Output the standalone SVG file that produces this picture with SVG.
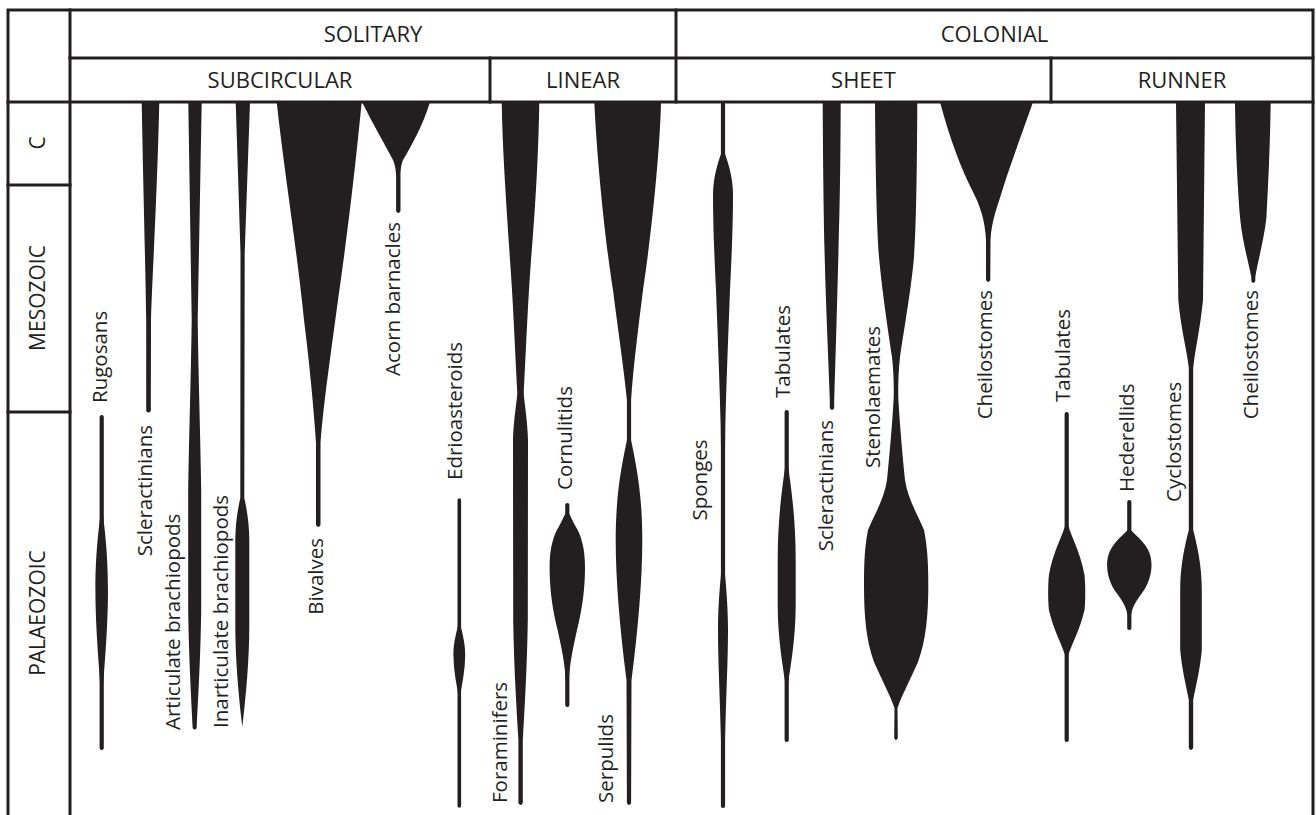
<svg xmlns="http://www.w3.org/2000/svg" width="1316" height="815" viewBox="0 0 1316 815">
<style>
.bg{fill:#ffffff}
.fr{stroke:#231f20;stroke-width:3;fill:none;stroke-linecap:square}
.sh{fill:#231f20}
.ln{stroke:#231f20;stroke-width:4.2;stroke-linecap:round;fill:none}
.ln3{stroke:#231f20;stroke-width:3.6;stroke-linecap:round;fill:none}
.hd{font-family:"Open Sans","Noto Sans","Liberation Sans",sans-serif;font-size:22px;fill:#231f20;text-anchor:middle}
.er{font-family:"Open Sans","Noto Sans","Liberation Sans",sans-serif;font-size:21px;fill:#231f20;text-anchor:middle}
.lb{font-family:"Open Sans","Noto Sans","Liberation Sans",sans-serif;font-size:20.5px;fill:#231f20}
.s{text-anchor:start}.e{text-anchor:end}.m{text-anchor:middle}
</style>
<rect class="bg" x="0" y="0" width="1316" height="815"/>
<g id="frame">
<path class="fr" d="M8,815 L8,10 L1313,10 L1313,815"/>
<line class="fr" x1="70" y1="10" x2="70" y2="815"/>
<line class="fr" x1="70" y1="58" x2="1313" y2="58"/>
<line class="fr" x1="8" y1="102" x2="1313" y2="102"/>
<line class="fr" x1="676" y1="10" x2="676" y2="102"/>
<line class="fr" x1="490" y1="58" x2="490" y2="102"/>
<line class="fr" x1="1051" y1="58" x2="1051" y2="102"/>
<line class="fr" x1="8" y1="185" x2="70" y2="185"/>
<line class="fr" x1="8" y1="412" x2="70" y2="412"/>
</g>
<g id="headers">
<text class="hd" x="373" y="42">SOLITARY</text>
<text class="hd" x="994.5" y="42">COLONIAL</text>
<text class="hd" x="280" y="88">SUBCIRCULAR</text>
<text class="hd" x="583" y="88">LINEAR</text>
<text class="hd" x="863.5" y="88">SHEET</text>
<text class="hd" x="1182" y="88">RUNNER</text>
</g>
<g id="eras">
<text class="er" transform="translate(45,143) rotate(-90)">C</text>
<text class="er" transform="translate(45,298) rotate(-90)">MESOZOIC</text>
<text class="er" transform="translate(45,613) rotate(-90)">PALAEOZOIC</text>
</g>
<g id="connectors"></g>
<g id="rugosans">
<line class="ln" x1="101.7" y1="417" x2="101.7" y2="748"/>
<path class="sh" d="M101.7,503 C104,525 108,550 108,590 C108,630 104,670 101.7,705 C99.4,670 95.4,630 95.4,590 C95.4,550 99.4,525 101.7,503 Z"/>
<text class="lb s" transform="translate(106.7,403) rotate(-90)">Rugosans</text>
</g>
<g id="scleractinians-solitary">
<path class="sh" d="M141.7,102 L159.3,102 C157,200 152.5,270 151,320 L150.8,411 Q148.5,414 146.2,411 L146.2,320 C145.5,270 143.5,200 141.7,102 Z"/>
<text class="lb e" transform="translate(151.7,425) rotate(-90)">Scleractinians</text>
</g>
<g id="articulate-brachiopods">
<path class="sh" d="M188.3,102 L201.7,102 L197.7,320 C198.5,380 200.5,440 201.2,490 L201.2,610 C200.5,660 198,700 196.7,728 Q194.7,731 192.7,728 C191.4,700 188.9,660 188.2,610 L188.2,490 C188.9,440 190.9,380 191.7,320 Z"/>
<text class="lb s" transform="translate(180,730) rotate(-90)">Articulate brachiopods</text>
</g>
<g id="inarticulate-brachiopods">
<path class="sh" d="M235.7,102 L250,102 L244.7,253 L244.3,498 C247,510 249.3,525 249.3,540 L249.3,625 C249.3,660 246,695 242.3,727 C238.6,695 235.3,660 235.3,625 L235.3,540 C235.3,525 237.6,510 240.3,498 L240.5,253 Z"/>
<text class="lb s" transform="translate(228.3,728) rotate(-90)">Inarticulate brachiopods</text>
</g>
<g id="bivalves">
<path class="sh" d="M276.7,102 L361.7,102 C355,170 348,230 338,300 C330,360 324,400 320.5,443 L320.5,525 Q318.3,529 316,525 L316,443 C313,400 309,360 304,320 C297,250 284,170 276.7,102 Z"/>
<text class="lb e" transform="translate(323,538) rotate(-90)">Bivalves</text>
</g>
<g id="acorn-barnacles">
<path class="sh" d="M362,102 L430,102 C423,125 412,145 403,160 C401,165 400.5,170 400.5,178 L400.5,211 Q398.3,215 396.1,211 L396.1,178 C396.1,170 395,165 393,160 C385,145 372,122 362,102 Z"/>
<text class="lb e" transform="translate(400,222) rotate(-90)">Acorn barnacles</text>
</g>
<g id="edrioasteroids">
<line class="ln3" x1="459.3" y1="500" x2="459.3" y2="806"/>
<path class="sh" d="M459.3,620 C462,632 465.2,642 465.2,655 C465.2,670 462,685 459.3,700 C456.6,685 453.4,670 453.4,655 C453.4,642 456.6,632 459.3,620 Z"/>
<text class="lb s" transform="translate(461.7,480) rotate(-90)">Edrioasteroids</text>
</g>
<g id="foraminifers">
<path class="sh" d="M501.7,102 L539.3,102 C538.5,150 536,200 531,260 C528,300 526,350 523.7,393 C524.5,405 527.5,420 528,440 L527.8,620 C527,670 524.5,710 522.8,740 L522.8,803 Q520.6,807 518.4,803 L518.4,740 C516.7,710 514,670 513.2,620 L513,440 C513.5,420 516.5,405 517.3,393 C515,350 513,300 510,260 C506,200 502.5,150 501.7,102 Z"/>
<text class="lb s" transform="translate(506.7,803) rotate(-90)">Foraminifers</text>
</g>
<g id="cornulitids">
<line class="ln" x1="567.3" y1="505" x2="567.3" y2="705"/>
<path class="sh" d="M567.3,511 C570,514 572,520 576,527 C581,535 585,548 585,567 C585,590 582,610 577,630 C573,648 570,662 568.8,680 L565.8,680 C564.6,662 561.6,648 557.6,630 C552.6,610 549.6,590 549.6,567 C549.6,548 553.6,535 558.6,527 C562.6,520 564.6,514 567.3,511 Z"/>
<text class="lb s" transform="translate(571.7,490) rotate(-90)">Cornulitids</text>
</g>
<g id="serpulids">
<path class="sh" d="M594.3,102 L661,102 C660,150 652,230 643,290 C638,330 633,370 631.1,400 L631.1,440 C635,460 642.3,490 642.3,540 C642.3,580 638,630 631.5,680 L631.1,803 Q629,807 626.9,803 L626.5,680 C620,630 615.7,580 615.7,540 C615.7,490 623,460 626.9,440 L626.9,400 C624,370 618,330 613,290 C605,240 597,160 594.3,102 Z"/>
<text class="lb s" transform="translate(613.3,803) rotate(-90)">Serpulids</text>
</g>
<g id="sponges">
<line class="ln" x1="723" y1="104" x2="723" y2="806"/>
<path class="sh" d="M723,148 C727,160 733,175 733,195 C733,225 731.5,260 730,290 C728.5,330 726.5,380 725.3,425 L725,450 L721,450 L720.7,425 C719.5,380 717.5,330 716,290 C714.5,260 713,225 713,195 C713,175 719,160 723,148 Z"/>
<path class="sh" d="M723,555 C725,575 728,600 728,630 C728,660 726,700 725,740 L724.5,783 L721.5,783 L721,740 C720,700 718,660 718,630 C718,600 721,575 723,555 Z"/>
<text class="lb m" transform="translate(706.7,480) rotate(-90)">Sponges</text>
</g>
<g id="tabulates-sheet">
<line class="ln" x1="786.7" y1="412" x2="786.7" y2="740"/>
<path class="sh" d="M786.7,455 C789,475 795.7,510 795.7,560 L795.7,605 C795.7,640 790,670 786.7,692 C783.4,670 777.7,640 777.7,605 L777.7,560 C777.7,510 784.4,475 786.7,455 Z"/>
<text class="lb s" transform="translate(790,398) rotate(-90)">Tabulates</text>
</g>
<g id="scleractinians-sheet">
<path class="sh" d="M822.7,102 L840.7,102 C840.5,160 840,200 838.5,250 C837,310 835.5,360 834.2,400 L834.2,408 Q832,412 829.8,408 L829.8,400 C828.5,360 826,310 824.5,250 C823.5,200 823,160 822.7,102 Z"/>
<text class="lb e" transform="translate(833.3,420) rotate(-90)">Scleractinians</text>
</g>
<g id="stenolaemates">
<path class="sh" d="M875,102 L917.3,102 C917,180 916,230 914,257 C911,290 904,330 900,357 C898.5,370 898,385 898.3,398 C899.5,420 902,450 905,480 C908,500 918,515 924,530 C927,545 928.3,560 928.3,585 C928.3,615 926,640 918,662 C910,680 902,695 897.5,708 L897.8,738 Q896,742 894.2,738 L894.5,708 C890,695 882,680 874,662 C866,640 864,615 864,585 C864,560 865,545 868,530 C874,515 884,500 887,480 C890,450 892.5,420 893.7,398 C894,385 893.5,370 892,357 C888,330 882,290 879,257 C877,230 875.5,180 875,102 Z"/>
<text class="lb s" transform="translate(880,468) rotate(-90)">Stenolaemates</text>
</g>
<g id="cheilostomes-sheet">
<path class="sh" d="M940,102 L1033,102 C1025,125 1012,160 1004,185 C998,205 991.5,220 990.5,240 L990.3,280 Q988.2,284 986,280 L986,240 C985,220 980,205 972,190 C962,170 950,140 940,102 Z"/>
<text class="lb e" transform="translate(991.7,290) rotate(-90)">Cheilostomes</text>
</g>
<g id="tabulates-runner">
<line class="ln" x1="1066.7" y1="414" x2="1066.7" y2="740"/>
<path class="sh" d="M1066.7,520 C1070,535 1080,550 1084.5,575 C1085.5,585 1085.5,600 1084.5,610 C1080,630 1071,645 1066.7,660 C1062.4,645 1053.4,630 1048.9,610 C1047.9,600 1047.9,585 1048.9,575 C1053.4,550 1063.4,535 1066.7,520 Z"/>
<text class="lb s" transform="translate(1069.5,402) rotate(-90)">Tabulates</text>
</g>
<g id="hederellids">
<line class="ln" x1="1129.3" y1="502" x2="1129.3" y2="628"/>
<path class="sh" d="M1129.3,528 C1133,533 1140,538 1145,545 C1150,552 1151.5,558 1151.5,565 C1151.5,575 1148,585 1142,593 C1137,600 1133,605 1131,615 L1127.6,615 C1125.6,605 1121.6,600 1116.6,593 C1110.6,585 1107.1,575 1107.1,565 C1107.1,558 1108.6,552 1113.6,545 C1118.6,538 1125.6,533 1129.3,528 Z"/>
<text class="lb s" transform="translate(1134,492) rotate(-90)">Hederellids</text>
</g>
<g id="cyclostomes">
<path class="sh" d="M1176,102 L1205,102 L1203,300 C1200,330 1195,350 1193.2,368 L1193.2,530 C1197,545 1201.8,565 1201.8,590 L1201.8,650 C1200,670 1196,685 1193.2,700 L1193.2,748 Q1191,752 1188.8,748 L1188.8,700 C1186,685 1182,670 1180.2,650 L1180.2,590 C1180.2,565 1185,545 1188.8,530 L1188.8,368 C1187,350 1181,330 1178.3,300 Z"/>
<text class="lb s" transform="translate(1181,502) rotate(-90)">Cyclostomes</text>
</g>
<g id="cheilostomes-runner">
<path class="sh" d="M1235,102 L1270.7,102 C1270,150 1268,190 1266.5,217 C1264,240 1258,260 1255.3,277 L1255.3,281 Q1253.3,285 1251.3,281 L1251.3,277 C1248,260 1242,240 1240,217 C1238,190 1235.5,150 1235,102 Z"/>
<text class="lb e" transform="translate(1258.3,290) rotate(-90)">Cheilostomes</text>
</g>
</svg>
